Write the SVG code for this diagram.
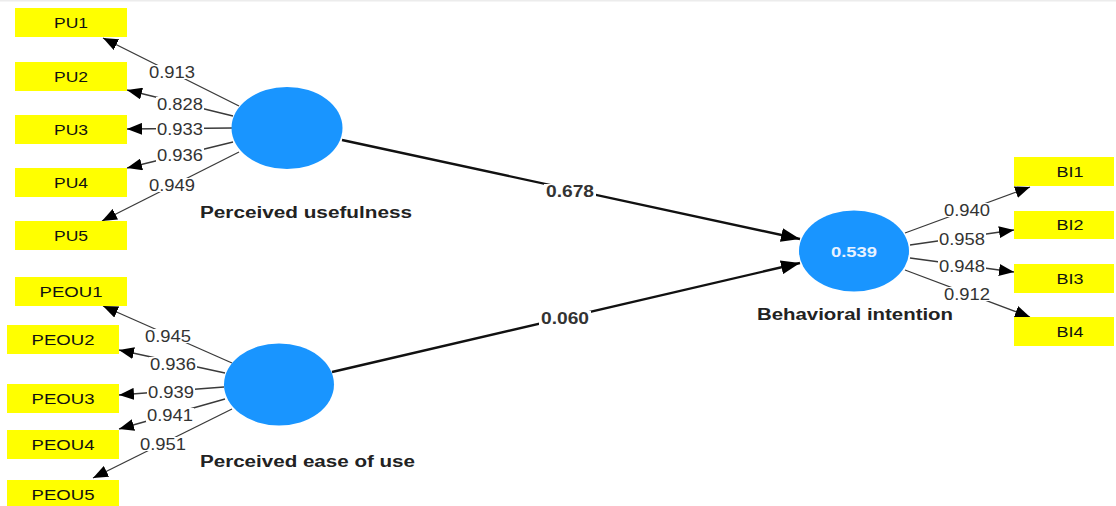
<svg xmlns="http://www.w3.org/2000/svg" width="1116" height="506" viewBox="0 0 1116 506">
<style>
.ind{fill:#ffff00}
.lv{fill:#1995ff}
.it{font-family:"Liberation Sans",Arial,sans-serif;font-size:15px;fill:#111;text-anchor:middle}
.lvn{font-family:"Liberation Sans",Arial,sans-serif;font-size:16px;font-weight:bold;fill:#222;text-anchor:start}
.ld{stroke:#3a3a3a;stroke-width:1.3;fill:none;marker-end:url(#ah)}
.pth{stroke:#111;stroke-width:2.4;fill:none;marker-end:url(#ahb)}
.bg{fill:#fff}
.lt{font-family:"Liberation Sans",Arial,sans-serif;font-size:16px;fill:#333;text-anchor:middle}
.pt{font-family:"Liberation Sans",Arial,sans-serif;font-size:16px;font-weight:bold;fill:#333;text-anchor:middle}
</style>
<defs>
<marker id="ah" markerUnits="userSpaceOnUse" markerWidth="16" markerHeight="12" refX="15" refY="6" orient="auto"><path d="M0,0 L15,6 L0,12 z" fill="#000"/></marker>
<marker id="ahb" markerUnits="userSpaceOnUse" markerWidth="20" markerHeight="14" refX="19" refY="7" orient="auto"><path d="M0,0 L19,7 L0,14 z" fill="#000"/></marker>
</defs>
<rect x="0" y="0" width="1116" height="506" fill="#fff"/>
<rect x="0" y="0" width="1116" height="1.5" fill="#ececec"/>

<g id="connectors">
<line class="ld" x1="239" y1="106" x2="103" y2="38"/>
<line class="ld" x1="233" y1="116" x2="127" y2="90"/>
<line class="ld" x1="232" y1="128" x2="127" y2="129"/>
<line class="ld" x1="233" y1="142" x2="127" y2="168"/>
<line class="ld" x1="239" y1="152" x2="102" y2="221"/>
<line class="ld" x1="232" y1="363" x2="103" y2="306"/>
<line class="ld" x1="225" y1="373" x2="119" y2="350"/>
<line class="ld" x1="224" y1="387" x2="119" y2="395"/>
<line class="ld" x1="225" y1="399" x2="119" y2="429"/>
<line class="ld" x1="232" y1="409" x2="93" y2="478"/>
<line class="ld" x1="905" y1="233" x2="1030" y2="187"/>
<line class="ld" x1="910" y1="245" x2="1014" y2="230"/>
<line class="ld" x1="910" y1="258" x2="1014" y2="272"/>
<line class="ld" x1="905" y1="270" x2="1030" y2="317"/>
<line class="pth" x1="342" y1="140" x2="800" y2="239"/>
<line class="pth" x1="332" y1="372" x2="800" y2="263"/>
<g class="bg">
<rect x="148" y="65" width="48" height="14"/>
<rect x="156" y="97" width="48" height="14"/>
<rect x="156" y="122" width="48" height="14"/>
<rect x="156" y="148" width="48" height="14"/>
<rect x="148" y="178" width="48" height="14"/>
<rect x="144" y="329" width="48" height="14"/>
<rect x="149" y="357" width="48" height="14"/>
<rect x="147" y="385" width="48" height="14"/>
<rect x="146" y="408" width="48" height="14"/>
<rect x="139" y="437" width="48" height="14"/>
<rect x="943" y="203" width="48" height="14"/>
<rect x="938" y="232" width="48" height="14"/>
<rect x="938" y="259" width="48" height="14"/>
<rect x="943" y="287" width="48" height="14"/>
<rect x="544" y="184" width="52" height="14"/>
<rect x="539" y="311" width="52" height="14"/>
</g>
<text class="lt" x="172" y="78" textLength="46" lengthAdjust="spacingAndGlyphs">0.913</text>
<text class="lt" x="180" y="110" textLength="46" lengthAdjust="spacingAndGlyphs">0.828</text>
<text class="lt" x="180" y="135" textLength="46" lengthAdjust="spacingAndGlyphs">0.933</text>
<text class="lt" x="180" y="161" textLength="46" lengthAdjust="spacingAndGlyphs">0.936</text>
<text class="lt" x="172" y="191" textLength="46" lengthAdjust="spacingAndGlyphs">0.949</text>
<text class="lt" x="168" y="342" textLength="46" lengthAdjust="spacingAndGlyphs">0.945</text>
<text class="lt" x="173" y="370" textLength="46" lengthAdjust="spacingAndGlyphs">0.936</text>
<text class="lt" x="171" y="398" textLength="46" lengthAdjust="spacingAndGlyphs">0.939</text>
<text class="lt" x="170" y="421" textLength="46" lengthAdjust="spacingAndGlyphs">0.941</text>
<text class="lt" x="163" y="450" textLength="46" lengthAdjust="spacingAndGlyphs">0.951</text>
<text class="lt" x="967" y="216" textLength="46" lengthAdjust="spacingAndGlyphs">0.940</text>
<text class="lt" x="962" y="245" textLength="46" lengthAdjust="spacingAndGlyphs">0.958</text>
<text class="lt" x="962" y="272" textLength="46" lengthAdjust="spacingAndGlyphs">0.948</text>
<text class="lt" x="967" y="300" textLength="46" lengthAdjust="spacingAndGlyphs">0.912</text>
<text class="pt" x="570" y="197" textLength="48" lengthAdjust="spacingAndGlyphs">0.678</text>
<text class="pt" x="565" y="324" textLength="48" lengthAdjust="spacingAndGlyphs">0.060</text>
</g>

<g id="PU1"><rect class="ind" x="15" y="8" width="112" height="29"/><text class="it" x="71" y="28" textLength="34" lengthAdjust="spacingAndGlyphs">PU1</text></g>
<g id="PU2"><rect class="ind" x="15" y="62" width="112" height="29"/><text class="it" x="71" y="82" textLength="34" lengthAdjust="spacingAndGlyphs">PU2</text></g>
<g id="PU3"><rect class="ind" x="15" y="115" width="112" height="29"/><text class="it" x="71" y="135" textLength="34" lengthAdjust="spacingAndGlyphs">PU3</text></g>
<g id="PU4"><rect class="ind" x="15" y="168" width="112" height="29"/><text class="it" x="71" y="188" textLength="34" lengthAdjust="spacingAndGlyphs">PU4</text></g>
<g id="PU5"><rect class="ind" x="15" y="221" width="112" height="29"/><text class="it" x="71" y="241" textLength="34" lengthAdjust="spacingAndGlyphs">PU5</text></g>

<g id="PEOU1"><rect class="ind" x="15" y="277" width="112" height="29"/><text class="it" x="71" y="297" textLength="63" lengthAdjust="spacingAndGlyphs">PEOU1</text></g>
<g id="PEOU2"><rect class="ind" x="7" y="325" width="112" height="29"/><text class="it" x="63" y="345" textLength="63" lengthAdjust="spacingAndGlyphs">PEOU2</text></g>
<g id="PEOU3"><rect class="ind" x="7" y="384" width="112" height="29"/><text class="it" x="63" y="404" textLength="63" lengthAdjust="spacingAndGlyphs">PEOU3</text></g>
<g id="PEOU4"><rect class="ind" x="7" y="430" width="112" height="29"/><text class="it" x="63" y="450" textLength="63" lengthAdjust="spacingAndGlyphs">PEOU4</text></g>
<g id="PEOU5"><rect class="ind" x="7" y="480" width="112" height="29"/><text class="it" x="63" y="500" textLength="63" lengthAdjust="spacingAndGlyphs">PEOU5</text></g>

<g id="BI1"><rect class="ind" x="1014" y="157" width="100" height="29"/><text class="it" x="1070" y="177" textLength="27" lengthAdjust="spacingAndGlyphs">BI1</text></g>
<g id="BI2"><rect class="ind" x="1014" y="211" width="100" height="28"/><text class="it" x="1070" y="230" textLength="27" lengthAdjust="spacingAndGlyphs">BI2</text></g>
<g id="BI3"><rect class="ind" x="1014" y="264" width="100" height="29"/><text class="it" x="1070" y="284" textLength="27" lengthAdjust="spacingAndGlyphs">BI3</text></g>
<g id="BI4"><rect class="ind" x="1014" y="317" width="100" height="29"/><text class="it" x="1070" y="337" textLength="27" lengthAdjust="spacingAndGlyphs">BI4</text></g>

<g id="PerceivedUsefulness"><ellipse class="lv" cx="287" cy="128" rx="55.5" ry="41"/><text class="lvn" x="200" y="218" textLength="212" lengthAdjust="spacingAndGlyphs">Perceived usefulness</text></g>
<g id="PerceivedEaseOfUse"><ellipse class="lv" cx="279" cy="384.5" rx="55" ry="41"/><text class="lvn" x="200" y="467" textLength="215" lengthAdjust="spacingAndGlyphs">Perceived ease of use</text></g>
<g id="BehavioralIntention"><ellipse class="lv" cx="854" cy="251" rx="55" ry="40.5"/><text x="854" y="257" font-family="Liberation Sans, Arial, sans-serif" font-size="15" font-weight="bold" fill="#e8f2ff" text-anchor="middle" textLength="46" lengthAdjust="spacingAndGlyphs">0.539</text><text class="lvn" x="757" y="320" textLength="196" lengthAdjust="spacingAndGlyphs">Behavioral intention</text></g>
</svg>
